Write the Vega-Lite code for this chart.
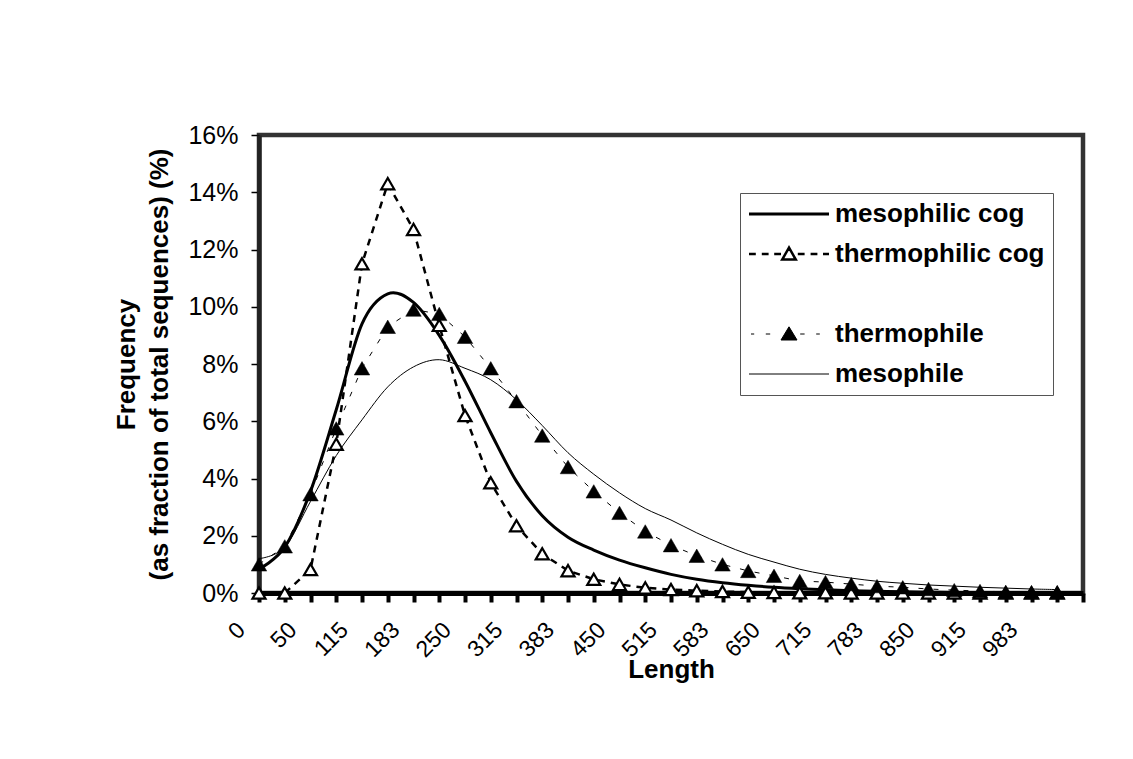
{
  "$schema": "https://vega.github.io/schema/vega-lite/v6.json",
  "width": 824,
  "height": 458,
  "autosize": {"type": "none"},
  "padding": {"left": 259, "top": 135, "right": 50, "bottom": 166},
  "background": "white",
  "config": {
    "font": "Liberation Sans",
    "view": {"stroke": "#333", "strokeWidth": 4.5},
    "axis": {"grid": false, "labelFont": "Liberation Sans", "titleFont": "Liberation Sans", "labelColor": "black", "titleColor": "black"}
  },
  "data": {
    "values": [
      {"i": 0, "mesophilic cog": 0.0084, "thermophilic cog": 0.0000, "thermophile": 0.0100, "mesophile": 0.0120},
      {"i": 1, "mesophilic cog": 0.0160, "thermophilic cog": 0.0000, "thermophile": 0.0163, "mesophile": 0.0160},
      {"i": 2, "mesophilic cog": 0.0355, "thermophilic cog": 0.0082, "thermophile": 0.0345, "mesophile": 0.0320},
      {"i": 3, "mesophilic cog": 0.0640, "thermophilic cog": 0.0520, "thermophile": 0.0575, "mesophile": 0.0480},
      {"i": 4, "mesophilic cog": 0.0940, "thermophilic cog": 0.1150, "thermophile": 0.0785, "mesophile": 0.0605},
      {"i": 5, "mesophilic cog": 0.1045, "thermophilic cog": 0.1430, "thermophile": 0.0930, "mesophile": 0.0720},
      {"i": 6, "mesophilic cog": 0.1015, "thermophilic cog": 0.1270, "thermophile": 0.0990, "mesophile": 0.0790},
      {"i": 7, "mesophilic cog": 0.0900, "thermophilic cog": 0.0935, "thermophile": 0.0975, "mesophile": 0.0815},
      {"i": 8, "mesophilic cog": 0.0740, "thermophilic cog": 0.0620, "thermophile": 0.0895, "mesophile": 0.0785},
      {"i": 9, "mesophilic cog": 0.0560, "thermophilic cog": 0.0385, "thermophile": 0.0785, "mesophile": 0.0745},
      {"i": 10, "mesophilic cog": 0.0390, "thermophilic cog": 0.0235, "thermophile": 0.0670, "mesophile": 0.0675},
      {"i": 11, "mesophilic cog": 0.0270, "thermophilic cog": 0.0137, "thermophile": 0.0550, "mesophile": 0.0585},
      {"i": 12, "mesophilic cog": 0.0195, "thermophilic cog": 0.0078, "thermophile": 0.0440, "mesophile": 0.0490},
      {"i": 13, "mesophilic cog": 0.0150, "thermophilic cog": 0.0048, "thermophile": 0.0355, "mesophile": 0.0415},
      {"i": 14, "mesophilic cog": 0.0115, "thermophilic cog": 0.0030, "thermophile": 0.0280, "mesophile": 0.0350},
      {"i": 15, "mesophilic cog": 0.0088, "thermophilic cog": 0.0018, "thermophile": 0.0215, "mesophile": 0.0295},
      {"i": 16, "mesophilic cog": 0.0065, "thermophilic cog": 0.0012, "thermophile": 0.0167, "mesophile": 0.0255},
      {"i": 17, "mesophilic cog": 0.0048, "thermophilic cog": 0.0008, "thermophile": 0.0130, "mesophile": 0.0210},
      {"i": 18, "mesophilic cog": 0.0036, "thermophilic cog": 0.0005, "thermophile": 0.0100, "mesophile": 0.0170},
      {"i": 19, "mesophilic cog": 0.0027, "thermophilic cog": 0.0003, "thermophile": 0.0077, "mesophile": 0.0135},
      {"i": 20, "mesophilic cog": 0.0020, "thermophilic cog": 0.0002, "thermophile": 0.0060, "mesophile": 0.0108},
      {"i": 21, "mesophilic cog": 0.0015, "thermophilic cog": 0.0001, "thermophile": 0.0042, "mesophile": 0.0083},
      {"i": 22, "mesophilic cog": 0.0011, "thermophilic cog": 0.0001, "thermophile": 0.0038, "mesophile": 0.0065},
      {"i": 23, "mesophilic cog": 0.0008, "thermophilic cog": 0.0000, "thermophile": 0.0031, "mesophile": 0.0052},
      {"i": 24, "mesophilic cog": 0.0006, "thermophilic cog": 0.0000, "thermophile": 0.0024, "mesophile": 0.0041},
      {"i": 25, "mesophilic cog": 0.0004, "thermophilic cog": 0.0000, "thermophile": 0.0020, "mesophile": 0.0034},
      {"i": 26, "mesophilic cog": 0.0003, "thermophilic cog": 0.0000, "thermophile": 0.0014, "mesophile": 0.0028},
      {"i": 27, "mesophilic cog": 0.0002, "thermophilic cog": 0.0000, "thermophile": 0.0010, "mesophile": 0.0024},
      {"i": 28, "mesophilic cog": 0.0002, "thermophilic cog": 0.0000, "thermophile": 0.0007, "mesophile": 0.0020},
      {"i": 29, "mesophilic cog": 0.0001, "thermophilic cog": 0.0000, "thermophile": 0.0004, "mesophile": 0.0017},
      {"i": 30, "mesophilic cog": 0.0001, "thermophilic cog": 0.0000, "thermophile": 0.0003, "mesophile": 0.0014},
      {"i": 31, "mesophilic cog": 0.0001, "thermophilic cog": 0.0000, "thermophile": 0.0003, "mesophile": 0.0012}
    ]
  },
  "transform": [
    {"fold": ["mesophilic cog", "thermophilic cog", "thermophile", "mesophile"], "as": ["series", "freq"]}
  ],
  "encoding": {
    "x": {
      "field": "i",
      "type": "quantitative",
      "scale": {"domain": [0, 32], "nice": false, "zero": false},
      "axis": {
        "values": [0,1,2,3,4,5,6,7,8,9,10,11,12,13,14,15,16,17,18,19,20,21,22,23,24,25,26,27,28,29,30,31,32],
        "labelExpr": "(datum.value % 2 == 0 && datum.value < 32) ? ['0','50','115','183','250','315','383','450','515','583','650','715','783','850','915','983'][datum.value / 2] : ''",
        "labelAngle": -45,
        "labelAlign": "right",
        "labelBaseline": "middle",
        "labelFontSize": 23,
        "labelOffset": -18,
        "labelPadding": 24,
        "labelOverlap": false,
        "labelFlush": false,
        "tickSize": 9,
        "tickWidth": 4,
        "tickColor": "black",
        "domainColor": "black",
        "domainWidth": 5,
        "title": "Length",
        "titleFontSize": 26,
        "titleFontWeight": "bold",
        "titleBaseline": "middle",
        "titleY": 76
      }
    },
    "y": {
      "field": "freq",
      "type": "quantitative",
      "scale": {"domain": [0, 0.16], "nice": false},
      "axis": {
        "values": [0, 0.02, 0.04, 0.06, 0.08, 0.1, 0.12, 0.14, 0.16],
        "format": ".0%",
        "labelFontSize": 25,
        "labelPadding": 13,
        "tickSize": 8,
        "tickWidth": 1.5,
        "tickColor": "black",
        "domainColor": "#222",
        "domainWidth": 4.5,
        "title": ["Frequency", "(as fraction of total sequences) (%)"],
        "titleFontSize": 26,
        "titleFontWeight": "bold",
        "titleLineHeight": 33,
        "titleBaseline": "top",
        "titleX": -146
      }
    },
    "color": {
      "field": "series",
      "type": "nominal",
      "scale": {
        "domain": ["mesophilic cog", "thermophilic cog", " ", "thermophile", "mesophile"],
        "range": ["black", "black", "black", "black", "black"]
      },
      "legend": {
        "title": null,
        "orient": "none",
        "legendX": 481,
        "legendY": 58,
        "fillColor": "white",
        "strokeColor": "#555",
        "padding": 8,
        "symbolSize": 6400,
        "symbolType": "M-1,0H1",
        "labelFont": "Liberation Sans",
        "labelFontSize": 26,
        "labelFontWeight": "bold",
        "labelColor": "black",
        "labelOffset": 61,
        "labelLimit": 400,
        "rowPadding": 14,
        "encode": {
          "symbols": {
            "update": {
              "x": {"value": 41},
              "shape": {"signal": "datum.value === 'mesophilic cog' ? 'M-1,0H1' : datum.value === 'thermophilic cog' ? 'M-1,0H-0.83M-0.68,0H-0.51M-0.37,0H-0.2M0.22,0H0.39M0.54,0H0.71M0.85,0H1M0,-0.16L-0.17,0.14L0.17,0.14Z' : datum.value === 'thermophile' ? 'M-0.95,0H-0.87M-0.58,0H-0.47M0.28,0H0.39M0.68,0H0.77M0,-0.18L-0.2,0.15L0.2,0.15Z' : datum.value === 'mesophile' ? 'M-1,0H1' : 'M0,0'"},
              "fill": {"signal": "datum.value === 'thermophile' ? 'black' : datum.value === 'thermophilic cog' ? 'white' : 'transparent'"},
              "stroke": {"value": "black"},
              "strokeWidth": {"signal": "datum.value === 'mesophilic cog' ? 3 : datum.value === 'thermophilic cog' ? 2.5 : 1"},
              "strokeDash": {"value": []},
              "size": {"value": 6400},
              "opacity": {"signal": "datum.value === ' ' ? 0 : 1"}
            }
          }
        }
      }
    }
  },
  "layer": [
    {
      "transform": [{"filter": "datum.series === 'mesophilic cog'"}],
      "mark": {"type": "line", "interpolate": "cardinal", "strokeWidth": 3}
    },
    {
      "transform": [{"filter": "datum.series === 'thermophilic cog'"}],
      "mark": {"type": "line", "strokeWidth": 2.5, "strokeDash": [7, 6]}
    },
    {
      "transform": [{"filter": "datum.series === 'thermophilic cog'"}],
      "mark": {"type": "point", "shape": "triangle-up", "filled": true, "fill": "white", "stroke": "black", "strokeWidth": 2.2, "size": 170, "opacity": 1},
      "encoding": {"color": null}
    },
    {
      "transform": [{"filter": "datum.series === 'thermophile'"}],
      "mark": {"type": "line", "strokeWidth": 1, "strokeDash": [5, 10]}
    },
    {
      "transform": [{"filter": "datum.series === 'thermophile'"}],
      "mark": {"type": "point", "shape": "triangle-up", "filled": true, "fill": "black", "stroke": "black", "strokeWidth": 0.5, "size": 240, "opacity": 1},
      "encoding": {"color": null}
    },
    {
      "transform": [{"filter": "datum.series === 'mesophile'"}],
      "mark": {"type": "line", "interpolate": "cardinal", "strokeWidth": 1}
    }
  ]
}
